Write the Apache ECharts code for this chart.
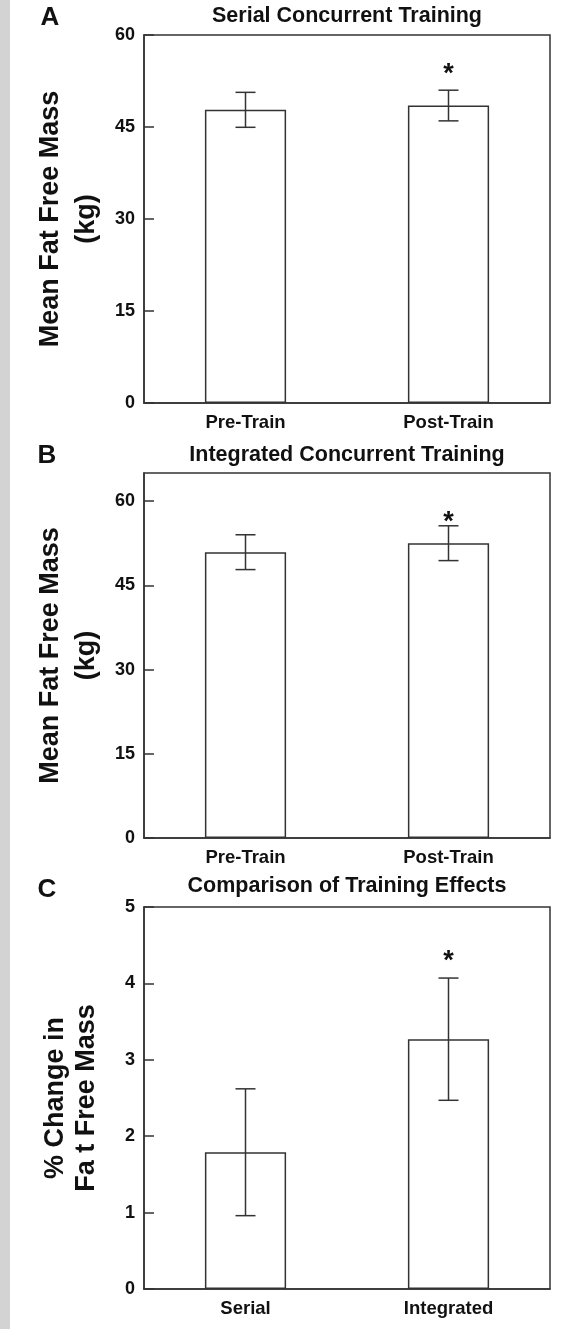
<!DOCTYPE html>
<html>
<head>
<meta charset="utf-8">
<script src="https://cdn.jsdelivr.net/npm/echarts@6/dist/echarts.min.js"></script>
<style>
html,body{margin:0;padding:0;background:#fff;}
#chart{width:575px;height:1329px;}
</style>
</head>
<body>
<div id="chart"></div>
<script>
// ---- data ----
const categoriesAB = ['Pre-Train', 'Post-Train'];
const categoriesC = ['Serial', 'Integrated'];
const meanA = [47.8, 48.5];
const errA = [2.85, 2.5];
const meanB = [50.9, 52.5];
const errB = [3.1, 3.1];
const meanC = [1.79, 3.27];
const errC = [0.83, 0.80];
// significance marker positions (value units)
const sigA = [null, 53.5];
const sigB = [null, 56.1];
const sigC = [null, 4.29];
const panelTitles = ['Serial Concurrent Training', 'Integrated Concurrent Training', 'Comparison of Training Effects'];
const panelLetters = ['A', 'B', 'C'];
const yNames = ['Mean Fat Free Mass\n(kg)', 'Mean Fat Free Mass\n(kg)', '% Change in\nFa t Free Mass'];

const FONT = 'Liberation Sans, Arial, Helvetica, sans-serif';
const LINE = '#333';

const grids = [
  {left: 144, top: 35, width: 406, height: 368},
  {left: 144, top: 473, width: 406, height: 365},
  {left: 144, top: 907, width: 406, height: 382}
];

const yRanges = [
  {min: 0, max: 60, interval: 15},
  {min: 0, max: 65, interval: 15},
  {min: 0, max: 5, interval: 1}
];
const nameGaps = [37, 37, 42];
const nameLineHeights = [36, 36, 31];

const cats = [categoriesAB, categoriesAB, categoriesC];
const means = [meanA, meanB, meanC];
const errs = [errA, errB, errC];
const sigs = [sigA, sigB, sigC];

const xAxes = [], yAxes = [], series = [];
for (let i = 0; i < 3; i++) {
  xAxes.push({
    type: 'category', gridIndex: i, data: cats[i],
    axisLine: {show: true, lineStyle: {color: LINE, width: 1.5}},
    axisTick: {show: false},
    axisLabel: {fontFamily: FONT, fontWeight: 'bold', fontSize: 18.5, color: '#111', margin: 10}
  });
  yAxes.push({
    type: 'value', gridIndex: i,
    min: yRanges[i].min, max: yRanges[i].max, interval: yRanges[i].interval,
    name: yNames[i], nameLocation: 'middle', nameGap: nameGaps[i],
    nameTextStyle: {fontFamily: FONT, fontWeight: 'bold', fontSize: 27, color: '#111', lineHeight: nameLineHeights[i]},
    splitLine: {show: false},
    axisLine: {show: true, lineStyle: {color: LINE, width: 1.5}},
    axisTick: {show: true, inside: true, length: 10, lineStyle: {color: LINE, width: 1.5}},
    axisLabel: {
      fontFamily: FONT, fontWeight: 'bold', fontSize: 18, color: '#111', margin: 9,
      showMaxLabel: i !== 1
    }
  });
  series.push({
    type: 'bar', xAxisIndex: i, yAxisIndex: i, barWidth: '40%',
    data: means[i],
    itemStyle: {color: '#fff', borderColor: LINE, borderWidth: 1.5},
    silent: true, animation: false
  });
  series.push({
    type: 'custom', xAxisIndex: i, yAxisIndex: i, animation: false, silent: true,
    data: means[i].map((m, k) => [k, m, errs[i][k]]),
    encode: {x: 0, y: 1},
    z: 5,
    renderItem: function (params, api) {
      const idx = api.value(0), m = api.value(1), e = api.value(2);
      const top = api.coord([idx, m + e]);
      const bot = api.coord([idx, m - e]);
      const hw = 10;
      const st = {stroke: LINE, lineWidth: 1.5};
      return {type: 'group', children: [
        {type: 'line', shape: {x1: top[0], y1: top[1], x2: bot[0], y2: bot[1]}, style: st},
        {type: 'line', shape: {x1: top[0] - hw, y1: top[1], x2: top[0] + hw, y2: top[1]}, style: st},
        {type: 'line', shape: {x1: bot[0] - hw, y1: bot[1], x2: bot[0] + hw, y2: bot[1]}, style: st}
      ]};
    }
  });
  series.push({
    type: 'custom', xAxisIndex: i, yAxisIndex: i, animation: false, silent: true,
    data: sigs[i].map((v, k) => v == null ? null : [k, v]).filter(d => d),
    encode: {x: 0, y: 1},
    z: 6,
    renderItem: function (params, api) {
      const p = api.coord([api.value(0), api.value(1)]);
      return {type: 'text', x: p[0], y: p[1], style: {
        text: '*', fontFamily: FONT, fontWeight: 'bold', fontSize: 27, fill: '#111',
        textAlign: 'center', textVerticalAlign: 'middle'
      }};
    }
  });
}

const titleCenters = [16, 455, 886];
const letterPos = [[50, 18], [47, 456], [47, 890]];
const graphics = [{type: 'rect', shape: {x: 0, y: 0, width: 10, height: 1329}, style: {fill: '#d3d3d3'}, silent: true}];
for (let i = 0; i < 3; i++) {
  graphics.push({type: 'text', x: grids[i].left + grids[i].width / 2, y: titleCenters[i], style: {
    text: panelTitles[i], fontFamily: FONT, fontWeight: 'bold', fontSize: 21.5, fill: '#111',
    textAlign: 'center', textVerticalAlign: 'middle'}});
  graphics.push({type: 'text', x: letterPos[i][0], y: letterPos[i][1], style: {
    text: panelLetters[i], fontFamily: FONT, fontWeight: 'bold', fontSize: 26, fill: '#111',
    textAlign: 'center', textVerticalAlign: 'middle'}});
}

const chart = echarts.init(document.getElementById('chart'), null, {renderer: 'canvas'});
chart.setOption({
  animation: false,
  backgroundColor: '#fff',
  grid: grids.map(g => Object.assign({show: true, borderColor: LINE, borderWidth: 1.5, backgroundColor: 'transparent'}, g)),
  xAxis: xAxes,
  yAxis: yAxes,
  series: series,
  graphic: graphics
});
</script>
</body>
</html>
